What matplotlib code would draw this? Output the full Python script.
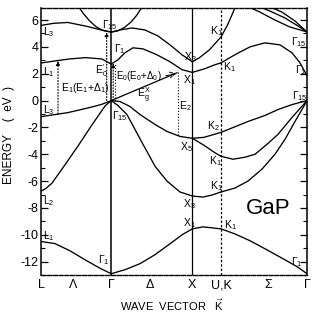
import matplotlib
matplotlib.use("Agg")
import matplotlib.pyplot as plt

plt.rcParams['font.family'] = ['Liberation Sans', 'DejaVu Sans']
plt.rcParams['axes.unicode_minus'] = False
plt.rcParams['mathtext.fontset'] = 'custom'
plt.rcParams['mathtext.rm'] = 'Liberation Sans'
plt.rcParams['mathtext.it'] = 'Liberation Sans'
plt.rcParams['mathtext.bf'] = 'Liberation Sans:bold'

# symmetry points along the k path (units of 2pi/a)
K_L, K_G, K_X, K_K, K_G2 = 0.0, 0.866, 1.866, 2.22, 3.281
tick_pos = [K_L, 0.395, K_G, 1.344, K_X, K_K, 2.80, K_G2]
tick_lab = ['L', 'Λ', 'Γ', 'Δ', 'X', 'U,K', 'Σ', 'Γ']

# ---- Lambda: L -> Gamma ----
lam_c1 = ([0, 0.17, 0.35, 0.55, 0.75, 0.866], [2.80, 2.95, 3.10, 3.20, 3.10, 2.72])
lam_c2 = ([0, 0.15, 0.33, 0.55, 0.75, 0.866], [5.60, 5.75, 5.82, 5.55, 5.25, 5.10])
lam_c3 = ([0.45, 0.52, 0.60, 0.68, 0.76, 0.866], [7.12, 6.50, 5.93, 5.50, 5.23, 5.10])
lam_v1 = ([0, 0.33, 0.60, 0.75, 0.866], [-1.20, -0.90, -0.52, -0.28, 0.0])
lam_v2 = ([0, 0.06, 0.136, 0.30, 0.46, 0.63, 0.79, 0.866],
          [-6.75, -6.55, -6.15, -4.75, -3.35, -1.80, -0.40, 0.0])
lam_v3 = ([0, 0.17, 0.36, 0.54, 0.73, 0.866], [-10.5, -10.65, -11.2, -11.85, -12.5, -12.9])

# ---- Delta: Gamma -> X ----
del_c1 = ([0.866, 0.949, 1.036, 1.134, 1.258, 1.430, 1.591, 1.739, 1.866],
          [2.72, 3.04, 3.56, 3.93, 3.85, 3.41, 2.89, 2.30, 2.10])
del_c2 = ([0.866, 0.974, 1.122, 1.282, 1.443, 1.591, 1.739, 1.866],
          [5.10, 5.26, 5.41, 5.26, 4.81, 4.15, 3.41, 2.89])
del_c3 = ([0.866, 0.95, 1.03, 1.11, 1.18, 1.25], [5.10, 5.20, 5.45, 5.85, 6.35, 7.0])
del_v1 = ([0.866, 0.974, 1.097, 1.221, 1.406, 1.554, 1.714, 1.866],
          [0.0, -0.07, -0.44, -1.04, -1.78, -2.30, -2.67, -2.81])
del_v2 = ([0.866, 0.949, 1.060, 1.159, 1.258, 1.406, 1.554, 1.714, 1.866],
          [0.0, -0.37, -1.04, -2.15, -3.26, -4.89, -6.00, -6.81, -7.11])
del_v3 = ([0.866, 1.036, 1.221, 1.406, 1.591, 1.739, 1.866],
          [-12.9, -12.6, -12.15, -11.48, -10.67, -10.0, -9.56])

# ---- X -> U,K ----
xk_c1 = ([1.866, 2.02, 2.145, 2.22], [2.10, 2.37, 2.67, 2.81])
xk_c2 = ([1.866, 1.953, 2.077, 2.22, 2.30, 2.37, 2.40], [2.89, 3.19, 3.78, 4.74, 5.63, 6.59, 7.1])
xk_v1 = ([1.866, 2.01, 2.135, 2.22], [-2.81, -2.74, -2.52, -2.37])
xk_v2 = ([1.866, 2.01, 2.135, 2.22], [-2.81, -3.33, -3.85, -4.15])
xk_v3 = ([1.866, 1.997, 2.108, 2.22], [-7.11, -7.19, -7.04, -6.81])
xk_v4 = ([1.866, 1.997, 2.108, 2.22], [-9.56, -9.41, -9.48, -9.56])

# ---- Sigma: K -> Gamma ----
sig_c1 = ([2.22, 2.39, 2.577, 2.762, 2.947, 3.095, 3.194, 3.281],
          [2.81, 3.41, 4.00, 4.30, 4.15, 3.56, 2.81, 1.85])
sig_c2 = ([2.515, 2.70, 2.885, 3.07, 3.281], [7.11, 6.59, 6.00, 5.48, 5.11])
sig_c3 = ([2.639, 2.824, 3.009, 3.169, 3.281], [7.11, 6.67, 6.15, 5.56, 5.11])
sig_c4 = ([2.799, 2.972, 3.132, 3.281], [7.04, 6.59, 5.93, 5.11])
sig_v1 = ([2.22, 2.552, 2.762, 2.922, 3.095, 3.281], [-2.37, -1.56, -1.11, -0.67, -0.30, 0.0])
sig_v2 = ([2.22, 2.367, 2.515, 2.639, 2.787, 2.922, 3.095, 3.281],
          [-4.15, -4.37, -4.22, -4.00, -3.26, -2.52, -1.26, 0.0])
sig_v3 = ([2.22, 2.39, 2.552, 2.725, 2.885, 3.009, 3.132, 3.218, 3.281],
          [-6.81, -6.52, -6.00, -5.11, -4.00, -2.89, -1.56, -0.67, 0.0])
sig_v4 = ([2.22, 2.39, 2.577, 2.762, 2.984, 3.157, 3.281],
          [-9.56, -9.93, -10.44, -11.04, -11.78, -12.37, -12.9])

bands = [lam_c1, lam_c2, lam_c3, lam_v1, lam_v2, lam_v3,
         del_c1, del_c2, del_c3, del_v1, del_v2, del_v3,
         xk_c1, xk_c2, xk_v1, xk_v2, xk_v3, xk_v4,
         sig_c1, sig_c2, sig_c3, sig_c4, sig_v1, sig_v2, sig_v3, sig_v4]

# indirect gap line Gamma15(v) -> X1(c)
egx_line = ([0.866, 1.677], [0.0, 2.07])

fig = plt.figure(figsize=(3.13, 3.18), dpi=100)
ax = fig.add_axes([0.131, 0.135, 0.85, 0.84])

for k, e in bands:
    ax.plot(k, e, color='k', lw=0.95, solid_capstyle='round')
ax.plot(*egx_line, color='k', lw=0.9)

ax.axvline(K_G, color='k', lw=1.1)
ax.axvline(K_X, color='k', lw=0.9)
ax.axvline(K_K, color='k', lw=0.9, ls=(0, (2, 1.5)))

ax.set_xlim(K_L, K_G2)
ax.set_ylim(-12.92, 6.9)

# transitions
arr = dict(arrowstyle='-|>', color='k', lw=0.8, ls=':', mutation_scale=6, shrinkA=0, shrinkB=0)
ax.annotate('', xy=(0.21, 2.95), xytext=(0.21, -1.0), arrowprops=arr)
ax.annotate('', xy=(0.81, 5.1), xytext=(0.81, 0.0), arrowprops=arr)
ax.annotate('', xy=(0.89, 2.78), xytext=(0.89, 0.0), arrowprops=arr)
ax.plot([0.91, 0.91], [0.0, 2.8], color='k', lw=0.8, ls=':')
ax.plot([1.69, 1.69], [-2.6, 2.25], color='k', lw=0.8, ls=':')
ax.annotate('', xy=(1.67, 2.02), xytext=(1.54, 1.85),
            arrowprops=dict(arrowstyle='->', color='k', lw=0.7, ls='--', shrinkA=0, shrinkB=0))

fs = 7.5
labels = [
    (0.025, 5.1, 'L$_3$', 'left', fs), (0.025, 2.15, 'L$_1$', 'left', fs),
    (0.025, -0.7, 'L$_3$', 'left', fs), (0.025, -7.5, 'L$_2$', 'left', fs),
    (0.025, -10.1, 'L$_1$', 'left', fs),
    (0.85, -11.9, 'Γ$_1$', 'right', fs), (0.875, -1.15, 'Γ$_{15}$', 'left', fs),
    (0.75, 5.6, 'Γ$_{15}$', 'left', fs), (0.90, 3.8, 'Γ$_1$', 'left', fs),
    (0.66, 2.2, 'E$_0^{\\prime}$', 'left', fs),
    (0.93, 1.85, 'E$_0$(E$_0$+Δ$_0$)', 'left', 7),
    (1.19, 0.4, 'E$_g^X$', 'left', fs),
    (0.25, 0.96, 'E$_1$(E$_1$+Δ$_1$)', 'left', fs),
    (1.70, -0.44, 'E$_2$', 'left', fs),
    (1.84, 3.26, 'X$_3$', 'center', fs), (1.745, 1.55, 'X$_1$', 'left', fs),
    (1.79, -3.5, 'X$_5$', 'center', fs), (1.825, -7.7, 'X$_3$', 'center', fs),
    (1.825, -9.1, 'X$_1$', 'center', fs),
    (2.16, 5.2, 'K$_1$', 'center', fs), (2.32, 2.5, 'K$_1$', 'center', fs),
    (2.12, -1.93, 'K$_2$', 'center', fs), (2.145, -4.5, 'K$_1$', 'center', fs),
    (2.16, -6.4, 'K$_1$', 'center', fs), (2.34, -9.26, 'K$_1$', 'center', fs),
    (3.18, 4.37, 'Γ$_{15}$', 'center', fs), (3.2, 2.3, 'Γ$_1$', 'center', fs),
    (3.19, 0.37, 'Γ$_{15}$', 'center', fs), (3.16, -12.0, 'Γ$_1$', 'center', fs),
]
for x, y, s, ha, size in labels:
    ax.text(x, y, s, fontsize=size, ha=ha, va='center')

ax.text(2.8, -8.07, 'GaP', fontsize=16, ha='center', va='center')

ax.set_yticks(range(-12, 7, 2))
ax.set_yticks(range(-13, 7, 1), minor=True)
ax.tick_params(axis='y', which='both', direction='in', left=True, right=True, labelsize=9, pad=2)
ax.tick_params(axis='y', which='major', length=5, width=0.9)
ax.tick_params(axis='y', which='minor', length=3, width=0.8)
ax.set_xticks(tick_pos)
ax.set_xticklabels(tick_lab)
ax.tick_params(axis='x', length=0, labelsize=9, pad=3)

for side in ['left', 'right']:
    ax.spines[side].set_linewidth(1.1)
for side in ['top', 'bottom']:
    ax.spines[side].set_linewidth(1.0)
    ax.spines[side].set_linestyle((0, (3, 1.2)))

fig.text(0.029, 0.575, 'ENERGY    (  eV  )', rotation=90, fontsize=8.5, ha='center', va='center')
fig.text(0.55, 0.042, 'WAVE  VECTOR   $\\vec{K}$', fontsize=8, ha='center', va='center')

fig.savefig('out.png', dpi=100)
